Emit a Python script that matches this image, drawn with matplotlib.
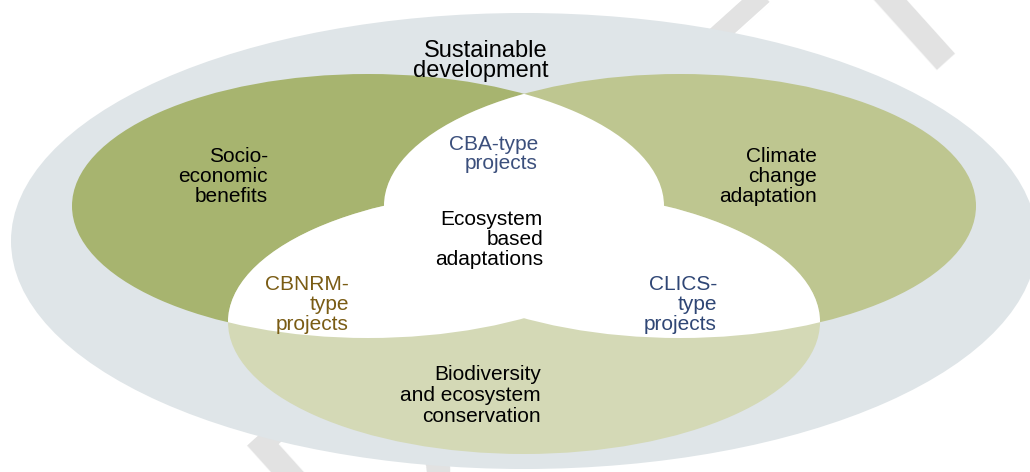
import numpy as np
import matplotlib
matplotlib.use('Agg')
import matplotlib.pyplot as plt
from matplotlib.patches import Ellipse, Rectangle

plt.rcParams['font.family'] = ['Liberation Sans', 'DejaVu Sans']

# sets of the diagram (left, right, bottom)
set_names = ["Socio-\neconomic\nbenefits",
             "Climate\nchange\nadaptation",
             "Biodiversity\nand ecosystem\nconservation"]
set_colors = ["#a7b46f", "#bec690", "#d4d9b6"]
set_centers = [(368, 206), (680, 206), (524, 322)]
set_size = (592, 264)

outer_label = "Sustainable\ndevelopment"
outer_color = "#dfe5e8"
center_label = "Ecosystem\nbased\nadaptations"

# project types sitting in the overlaps
overlap_labels = ["CBA-type\nprojects", "CBNRM-\ntype\nprojects", "CLICS-\ntype\nprojects"]
overlap_colors = ["#3b4f7c", "#7a5c14", "#2f4675"]

fig = plt.figure(figsize=(10.3, 4.72), dpi=100)
ax = fig.add_axes([0, 0, 1, 1])
ax.set_xlim(0, 1030)
ax.set_ylim(472, 0)
ax.axis('off')

# faint watermark behind everything
ax.text(628, 236, "DRAFT", fontsize=190, color="#e2e2e2", rotation=42,
        ha='center', va='center', zorder=0)

ax.add_patch(Ellipse((524, 241), 1026, 456, facecolor=outer_color,
                     edgecolor='none', zorder=1))

patches = []
for c, col in zip(set_centers, set_colors):
    p = Ellipse(c, set_size[0], set_size[1], facecolor=col, edgecolor='none', zorder=2)
    ax.add_patch(p)
    patches.append(p)

# every pairwise overlap is white
for i in range(3):
    for j in range(i + 1, 3):
        w = Ellipse(set_centers[i], set_size[0], set_size[1], facecolor='white',
                    edgecolor='none', zorder=3)
        ax.add_patch(w)
        w.set_clip_path(patches[j])


def put_lines(text, x_right, y_first, color='black', size=15, step=20):
    # each line drawn on its own and clipped just under the baseline,
    # like the tight text boxes of the original figure
    for k, line in enumerate(text.split("\n")):
        yb = y_first + k * step
        clip = Rectangle((x_right - 400, yb - 30), 420, 32.5,
                         transform=ax.transData, visible=False)
        ax.add_patch(clip)
        t = ax.text(x_right, yb, line, ha='right', va='baseline',
                    fontsize=size, color=color, zorder=5)
        t.set_clip_path(clip)


put_lines(outer_label, 548, 57, size=17)
put_lines(set_names[0], 268, 162)
put_lines(set_names[1], 817, 162)
put_lines(set_names[2], 541, 380, step=21)
put_lines(center_label, 543, 225)
put_lines(overlap_labels[0], 538, 150, color=overlap_colors[0], step=19)
put_lines(overlap_labels[1], 349, 290, color=overlap_colors[1])
put_lines(overlap_labels[2], 717, 290, color=overlap_colors[2])

fig.savefig("out.png", dpi=100)
